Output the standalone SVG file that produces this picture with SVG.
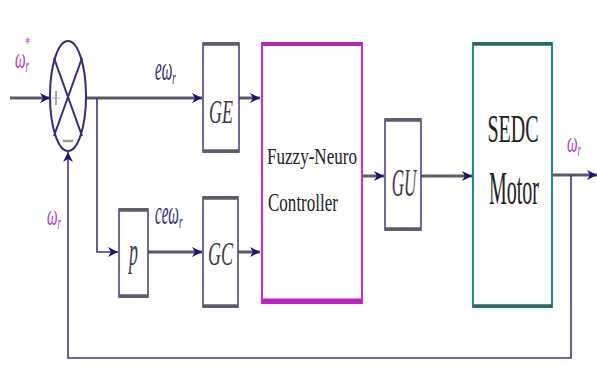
<svg xmlns="http://www.w3.org/2000/svg" width="597" height="366" viewBox="0 0 597 366">
  <style>
    .blk { fill: #ffffff; stroke: #3b3b86; stroke-width: 1.5; }
    .edge { stroke: #5c5c66; stroke-width: 3.5; }
    .wire { fill: none; stroke: #5a5a68; stroke-width: 3; }
    .fb { fill: none; stroke: #3a3a8a; stroke-width: 1.6; }
    .lbl { font-family: "Liberation Serif", "DejaVu Serif", serif; fill: #222222; }
    .sig { font-family: "Liberation Serif", "DejaVu Serif", serif; font-style: italic; fill: #2a2a7a; }
    .gain { font-family: "Liberation Serif", "DejaVu Serif", serif; font-style: italic; fill: #3a3a4a; }
    .mag { fill: #b838b8; }
  </style>
  <defs>
    <marker id="ah" viewBox="0 0 10 10" refX="10" refY="5" markerWidth="10" markerHeight="14" markerUnits="userSpaceOnUse" orient="auto">
      <path d="M0,0 L10,5 L0,10 L3,5 Z" fill="#14147a"/>
    </marker>
  </defs>

  <g id="connectors">
    <line class="wire" x1="10" y1="98" x2="50" y2="98" marker-end="url(#ah)"/>
    <line class="wire" x1="86" y1="98" x2="202" y2="98" marker-end="url(#ah)"/>
    <polyline class="fb" points="97,98 97,252 118,252" marker-end="url(#ah)"/>
    <line class="wire" x1="148" y1="252" x2="202" y2="252" marker-end="url(#ah)"/>
    <line class="wire" x1="239" y1="98" x2="260" y2="98" marker-end="url(#ah)"/>
    <line class="wire" x1="238" y1="252" x2="260" y2="252" marker-end="url(#ah)"/>
    <line class="wire" x1="363" y1="176" x2="384" y2="176" marker-end="url(#ah)"/>
    <line class="wire" x1="421" y1="176" x2="472" y2="176" marker-end="url(#ah)"/>
    <line class="wire" x1="552" y1="175" x2="597" y2="175" marker-end="url(#ah)"/>
    <polyline class="fb" points="571,175 571,358 68,358 68,152" marker-end="url(#ah)"/>
  </g>

  <g id="sum">
    <ellipse cx="68" cy="96" rx="18" ry="55" fill="#ffffff" stroke="#2e2e7e" stroke-width="2"/>
    <line x1="54" y1="58" x2="82" y2="136" stroke="#2e2e7e" stroke-width="2"/>
    <line x1="82" y1="58" x2="54" y2="136" stroke="#2e2e7e" stroke-width="2"/>
    <line x1="56" y1="91" x2="56" y2="105" stroke="#888" stroke-width="1.5"/>
    <line x1="52" y1="98" x2="60" y2="98" stroke="#aaa" stroke-width="1"/>
    <line x1="63" y1="141" x2="73" y2="141" stroke="#999" stroke-width="2.5"/>
  </g>

  <g id="GE">
    <rect class="blk" x="203" y="43" width="36" height="109"/>
    <line class="edge" x1="203" y1="44" x2="239" y2="44"/>
    <line class="edge" x1="203" y1="151" x2="239" y2="151"/>
    <text class="gain" transform="translate(221,123) scale(1,1.9)" font-size="18" text-anchor="middle">GE</text>
  </g>

  <g id="GC">
    <rect class="blk" x="203" y="197" width="35" height="110"/>
    <line class="edge" x1="203" y1="198" x2="238" y2="198"/>
    <line class="edge" x1="203" y1="306" x2="238" y2="306"/>
    <text class="gain" transform="translate(220.5,265) scale(1,1.9)" font-size="18" text-anchor="middle">GC</text>
  </g>

  <g id="P">
    <rect class="blk" x="119" y="209" width="29" height="88"/>
    <line class="edge" x1="119" y1="210" x2="148" y2="210"/>
    <line class="edge" x1="119" y1="296" x2="148" y2="296"/>
    <text class="gain" transform="translate(133.5,265) scale(1,2.2)" font-size="18" text-anchor="middle">p</text>
  </g>

  <g id="FNC">
    <rect x="262" y="43" width="100" height="260" fill="#ffffff" stroke="#e020e0" stroke-width="2"/>
    <line x1="262" y1="44" x2="362" y2="44" stroke="#b02ab0" stroke-width="4"/>
    <line x1="262" y1="301" x2="362" y2="301" stroke="#c020c0" stroke-width="5"/>
    <text class="lbl" transform="translate(267,164) scale(1,1.4)" font-size="17" textLength="90" lengthAdjust="spacingAndGlyphs" fill="#444">Fuzzy-Neuro</text>
    <text class="lbl" transform="translate(268,211) scale(1,1.5)" font-size="17" textLength="70" lengthAdjust="spacingAndGlyphs" fill="#444">Controller</text>
  </g>

  <g id="GU">
    <rect class="blk" x="385" y="119" width="36" height="111"/>
    <line class="edge" x1="385" y1="120" x2="421" y2="120"/>
    <line class="edge" x1="385" y1="229" x2="421" y2="229"/>
    <text class="gain" transform="translate(404,196) scale(1,2.4)" font-size="17" text-anchor="middle">GU</text>
  </g>

  <g id="SEDC">
    <rect x="473" y="43" width="79" height="264" fill="#ffffff" stroke="#1a9088" stroke-width="2"/>
    <line x1="473" y1="44" x2="552" y2="44" stroke="#2a6a64" stroke-width="3.5"/>
    <line x1="473" y1="306" x2="552" y2="306" stroke="#2a6a64" stroke-width="3.5"/>
    <text class="lbl" transform="translate(513,142) scale(1,2.05)" font-size="20" text-anchor="middle" fill="#111">SEDC</text>
    <text class="lbl" transform="translate(514,204) scale(1,2.3)" font-size="20" text-anchor="middle" fill="#111">Motor</text>
  </g>

  <g id="labels">
    <text class="sig mag" transform="translate(15,68) scale(1,2)" font-size="15">ω<tspan font-size="9" dy="2">r</tspan><tspan font-size="9" dx="-4" dy="-11">*</tspan></text>
    <text class="sig" transform="translate(155,80) scale(1,2.2)" font-size="15">eω<tspan font-size="9" dy="2">r</tspan></text>
    <text class="sig" transform="translate(155,224) scale(1,2.2)" font-size="15">ceω<tspan font-size="9" dy="2">r</tspan></text>
    <text class="sig mag" transform="translate(47,225) scale(1,2)" font-size="15">ω<tspan font-size="9" dy="2">r</tspan></text>
    <text class="sig mag" transform="translate(567,152) scale(1,2)" font-size="15">ω<tspan font-size="9" dy="2">r</tspan></text>
  </g>
</svg>
